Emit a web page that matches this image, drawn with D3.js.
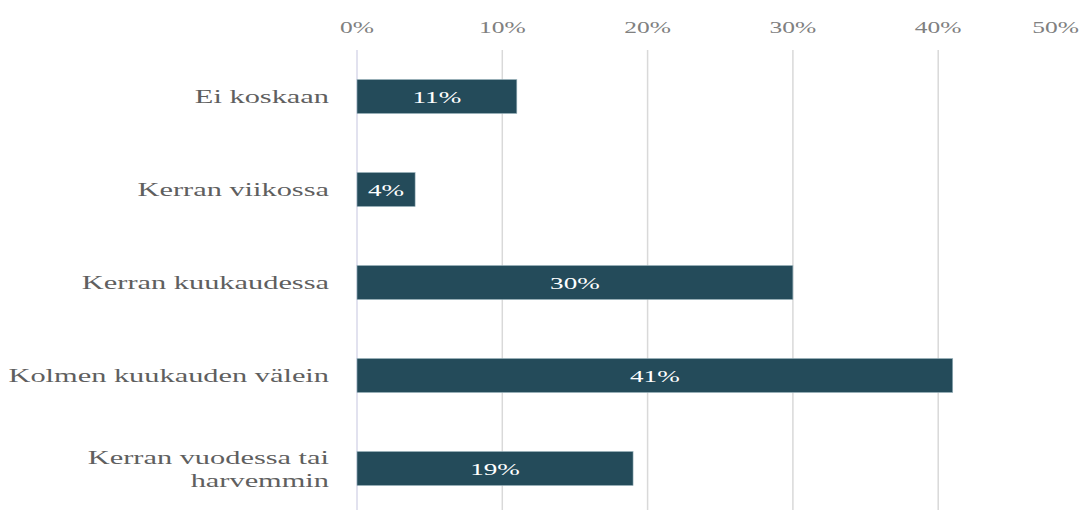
<!DOCTYPE html>
<html>
<head>
<meta charset="utf-8">
<script src="https://cdn.jsdelivr.net/npm/d3@7"></script>
<style>
  html, body { margin: 0; padding: 0; background: #fff; }
  svg { display: block; }
</style>
</head>
<body>
<svg id="chart" width="1080" height="510"></svg>
<script>
const categories = ["Ei koskaan", "Kerran viikossa", "Kerran kuukaudessa", "Kolmen kuukauden välein", "Kerran vuodessa tai harvemmin"];
const categoryLines = [["Ei koskaan"], ["Kerran viikossa"], ["Kerran kuukaudessa"], ["Kolmen kuukauden välein"], ["Kerran vuodessa tai", "harvemmin"]];
const values = [11, 4, 30, 41, 19];
const tickValues = [0, 10, 20, 30, 40, 50];
const tickLabels = ["0%", "10%", "20%", "30%", "40%", "50%"];

const svg = d3.select("#chart");
const W = 1080, H = 510;
const FONT = "'Liberation Serif', 'Times New Roman', serif";

const x = d3.scaleLinear().domain([0, 50]).range([357, 1083.5]);
const y = d3.scaleBand().domain(categories).range([50, 515]).paddingInner(0.634).paddingOuter(0.317);

// gridlines
svg.append("g").selectAll("line").data(tickValues.filter(d => d > 0)).join("line")
  .attr("x1", d => x(d)).attr("x2", d => x(d))
  .attr("y1", 50).attr("y2", H)
  .attr("stroke", "#d9d9d9").attr("stroke-width", 1.5);

// zero axis line
svg.append("line")
  .attr("x1", x(0)).attr("x2", x(0)).attr("y1", 50).attr("y2", H)
  .attr("stroke", "#d8d8ea").attr("stroke-width", 1.5);

// tick labels (horizontally stretched serif text)
const tickG = svg.append("g");
tickValues.forEach((v, i) => {
  let cx = x(v);
  let anchor = "middle";
  if (cx > W - 25) { cx = W - 1; anchor = "end"; }
  tickG.append("g")
    .attr("transform", `translate(${cx},33) scale(1.5,1)`)
    .append("text")
    .attr("text-anchor", anchor)
    .attr("font-family", FONT)
    .attr("font-size", 17)
    .attr("fill", "#808080")
    .text(tickLabels[i]);
});

// bars
svg.append("g").selectAll("rect").data(values).join("rect")
  .attr("x", x(0))
  .attr("y", (d, i) => y(categories[i]))
  .attr("width", d => x(d) - x(0))
  .attr("height", y.bandwidth())
  .attr("fill", "#244b5a")
  .attr("stroke", "#9fb7c0")
  .attr("stroke-width", 0.6);

// bar value labels
const valG = svg.append("g");
values.forEach((v, i) => {
  const cx = (x(0) + x(v)) / 2;
  const cy = y(categories[i]) + y.bandwidth() / 2;
  valG.append("g")
    .attr("transform", `translate(${cx},${cy + 6}) scale(1.55,1)`)
    .append("text")
    .attr("text-anchor", "middle")
    .attr("font-family", FONT)
    .attr("font-size", 17.5)
    .attr("fill", "#ffffff")
    .text(v + "%");
});

// category labels
const catG = svg.append("g");
categories.forEach((c, i) => {
  const lines = categoryLines[i];
  const cy = y(c) + y.bandwidth() / 2;
  const lh = 23;
  lines.forEach((ln, j) => {
    const ly = cy + (j - (lines.length - 1) / 2) * lh + 6.5;
    catG.append("g")
      .attr("transform", `translate(329,${ly}) scale(1.6,1)`)
      .append("text")
      .attr("text-anchor", "end")
      .attr("font-family", FONT)
      .attr("font-size", 19)
      .attr("fill", "#5f5f5f")
      .text(ln);
  });
});
</script>
</body>
</html>
